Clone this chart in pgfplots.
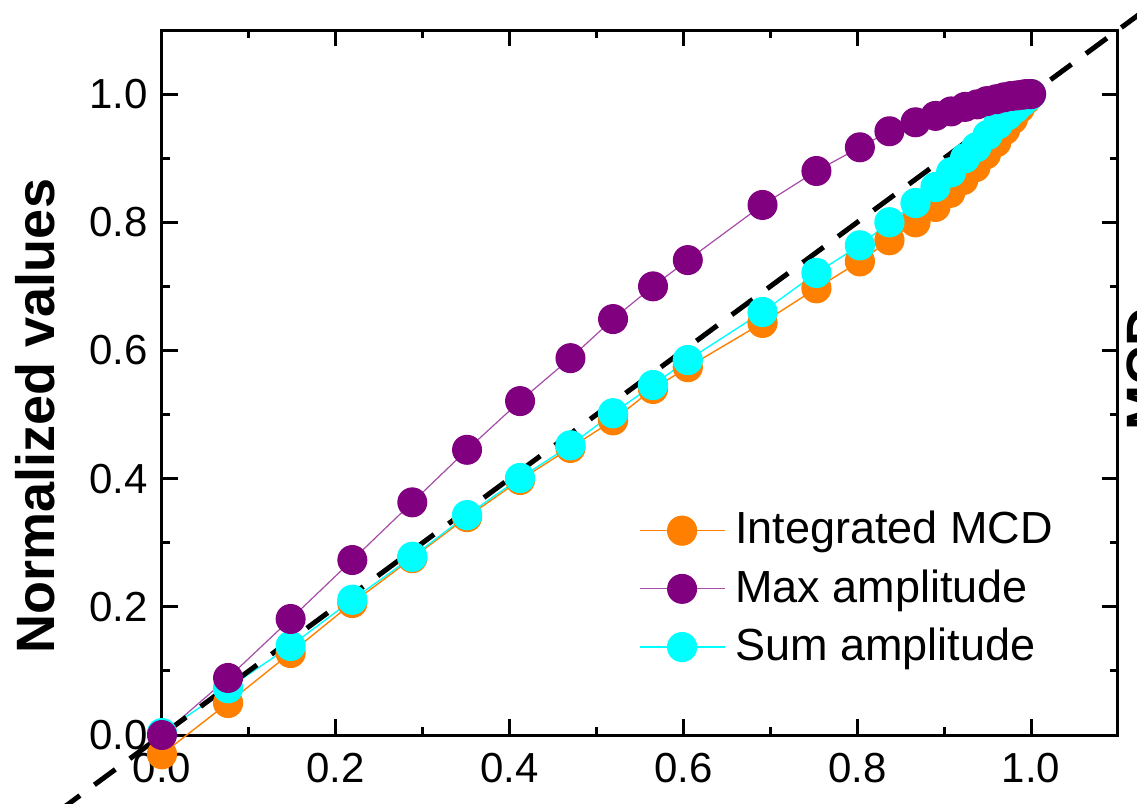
\documentclass[border=0pt]{standalone}
\usepackage{pgfplots}
\pgfplotsset{compat=1.18}
\usepackage{fontspec}
\setmainfont{Liberation Sans}
\definecolor{corange}{RGB}{255,128,0}
\definecolor{cpurple}{RGB}{128,0,128}
\definecolor{ccyan}{RGB}{0,255,255}
\begin{document}
\begin{tikzpicture}
\begin{axis}[
  scale only axis, width=239pt, height=176.25pt,
  xmin=0, xmax=1.1, ymin=0, ymax=1.1,
  xtick={0,0.2,0.4,0.6,0.8,1.0}, ytick={0,0.2,0.4,0.6,0.8,1.0},
  minor tick num=1,
  tick align=inside,
  major tick length=4pt, minor tick length=2pt,
  axis line style={line width=0.75pt},
  every tick/.style={black, line width=0.75pt},
  /pgf/number format/assume math mode=true,
  /pgf/number format/fixed, /pgf/number format/fixed zerofill, /pgf/number format/precision=1,
  xticklabel style={font=\fontsize{10.5}{12}\selectfont, yshift=-1pt},
  yticklabel style={font=\fontsize{10.5}{12}\selectfont},
  ylabel={Normalized values},
  ylabel style={font=\bfseries\fontsize{13.5}{16}\selectfont, at={(axis description cs:-0.1328,0.4525)}, anchor=center},
  clip=false,
  legend style={draw=none, fill=none, at={(axis description cs:0.498,0.324)}, anchor=north west,
    font=\fontsize{11.25}{13}\selectfont, row sep=2.9pt, column sep=1.5pt, inner sep=0pt,
    nodes={inner sep=1pt}},
  legend cell align=left,
  legend image code/.code={\draw[mark repeat=2,mark phase=2,#1] plot coordinates {(0pt,0pt) (10.625pt,0pt) (21.25pt,0pt)};},
]
\addplot[color=corange, line width=0.35pt, mark=*, mark size=3.6pt, mark options={fill=corange, draw=corange}] coordinates {
(0,-0.03) (0.076,0.050) (0.148,0.128) (0.219,0.206) (0.288,0.276) (0.351,0.340) (0.412,0.398) (0.470,0.448) (0.519,0.491) (0.565,0.540) (0.605,0.574) (0.691,0.643) (0.753,0.697) (0.803,0.739) (0.837,0.772) (0.867,0.800) (0.890,0.824) (0.907,0.846) (0.922,0.866) (0.936,0.886) (0.948,0.906) (0.960,0.925) (0.970,0.944) (0.979,0.961) (0.987,0.978) (0.994,0.991) (1.0,1.0)
};
\addlegendentry{Integrated MCD}
\addplot[color=ccyan, line width=0.35pt, mark=*, mark size=3.6pt, mark options={fill=ccyan, draw=ccyan}, forget plot] coordinates {
(0,0.003) (0.076,0.073) (0.148,0.139) (0.219,0.211) (0.288,0.278) (0.351,0.343) (0.412,0.401) (0.470,0.452) (0.519,0.502) (0.565,0.546) (0.605,0.585) (0.691,0.660) (0.753,0.721) (0.803,0.764) (0.837,0.800) (0.867,0.830) (0.890,0.855) (0.908,0.878) (0.924,0.900) (0.937,0.917) (0.950,0.936) (0.962,0.953) (0.973,0.967) (0.982,0.978) (0.990,0.988) (0.996,0.995) (1.0,1.0)
};
\addplot[color=cpurple!70, line width=0.3pt, mark=*, mark size=3.6pt, mark options={fill=cpurple, draw=cpurple}] coordinates {
(0,0) (0.076,0.089) (0.148,0.181) (0.219,0.273) (0.288,0.363) (0.351,0.445) (0.412,0.521) (0.470,0.588) (0.519,0.649) (0.565,0.700) (0.605,0.741) (0.691,0.827) (0.753,0.880) (0.803,0.917) (0.837,0.942) (0.867,0.956) (0.890,0.966) (0.908,0.973) (0.924,0.980) (0.938,0.984) (0.949,0.989) (0.960,0.992) (0.969,0.995) (0.977,0.997) (0.984,0.998) (0.990,0.999) (0.994,1.0) (0.998,1.0) (1.0,1.0)
};
\addlegendentry{Max amplitude}
\addplot[black, line width=1.25pt, dash pattern=on 6.5pt off 4.5pt, forget plot] coordinates {(-0.2,-0.2) (1.3,1.3)};
\addlegendimage{color=ccyan, line width=0.35pt, mark=*, mark size=3.6pt, mark options={fill=ccyan, draw=ccyan}}
\addlegendentry{Sum amplitude}
\end{axis}
\node[rotate=90, anchor=north, inner sep=0pt, font=\bfseries\fontsize{13.5}{16}\selectfont] at (241pt,91.5pt) {MCD};
\pgfresetboundingbox
\path[use as bounding box] (-40.5pt,-17.25pt) rectangle (243.75pt,183.75pt);
\end{tikzpicture}
\end{document}
